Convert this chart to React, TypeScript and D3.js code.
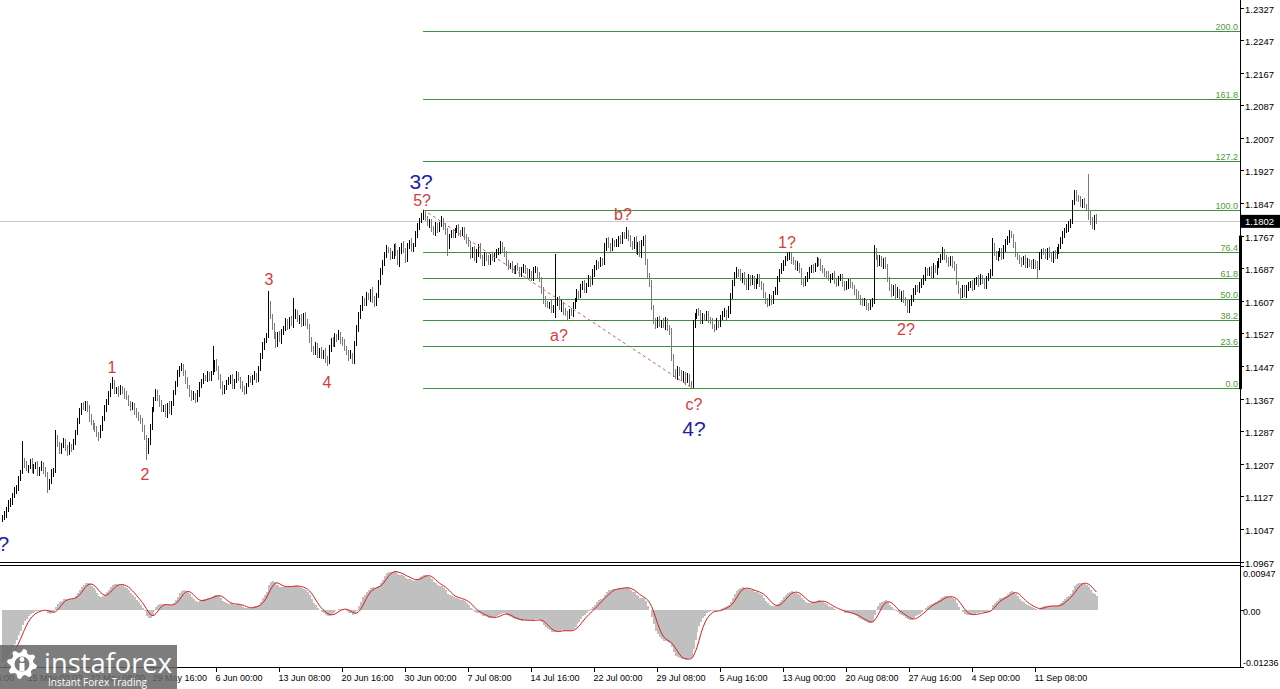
import React from 'react';
import * as d3 from 'd3';

// ---------------- data ----------------
// H4 bars, prices stored as pips above 1.1000
const PIP_BASE = 1.1;
const FIRST_OPEN = 70;

const closes = [
  75,82,95,108,115,128,140,150,170,185,215,
  205,195,200,210,190,200,205,185,195,205,190,180,150,165,185,190,
  270,
  255,240,250,262,245,235,250,245,260,
  285,310,335,350,345,355,340,320,
  310,300,290,280,275,
  295,320,340,360,380,395,405,
  385,390,380,392,385,375,
  370,355,345,350,335,330,320,310,295,270,240,
  260,300,340,365,380,
  370,355,340,345,330,350,335,355,
  380,405,430,440,445,
  430,410,395,380,370,375,365,380,
  400,410,420,415,425,420,430,440,
  455,440,420,400,385,395,405,
  410,420,400,410,425,415,400,390,385,400,415,410,420,425,415,
  440,470,495,510,520,
  600,
  570,545,520,500,525,510,530,
  540,555,545,560,550,570,580,
  560,565,550,570,555,545,
  510,490,480,495,475,485,470,480,465,460,
  490,510,500,520,515,525,510,505,490,480,
  470,475,460,
  500,540,570,590,610,600,620,615,630,610,600,620,
  650,680,700,720,735,
  730,715,720,740,725,700,730,745,730,710,740,750,735,745,
  770,790,805,815,820,
  810,795,800,785,775,790,780,795,805,790,775,740,
  765,775,770,780,785,775,770,780,765,755,
  745,720,735,710,725,740,715,700,720,710,
  705,715,710,720,725,730,745,735,720,700,
  690,695,685,680,690,685,675,680,690,680,670,675,665,680,685,670,660,
  630,610,600,595,600,585,590,
  600,
  610,590,600,580,575,570,580,575,
  595,610,625,620,640,650,635,645,660,650,
  675,690,700,695,705,700,
  740,755,745,735,750,745,
  750,760,755,770,765,775,760,
  750,740,755,730,745,720,750,760,
  700,670,650,
  590,560,545,560,550,
  555,545,560,540,530,
  470,430,420,
  440,430,415,425,410,420,405,400,
  545,
  570,580,575,560,570,565,575,560,555,
  545,540,555,550,
  565,575,580,570,585,
  620,650,670,680,675,
  660,670,655,640,665,650,660,645,655,665,650,640,
  620,610,600,615,605,625,630,
  660,680,690,700,710,715,720,
  705,700,690,695,680,655,650,
  660,670,680,690,685,695,705,700,690,
  680,675,670,660,665,670,655,650,660,665,650,640,645,655,645,
  640,630,620,615,605,600,605,595,590,600,
  605,
  730,
  715,700,710,695,705,690,
  660,640,625,640,620,630,615,625,610,
  600,585,600,
  615,630,640,635,645,650,
  665,680,675,685,670,690,680,695,705,715,725,
  715,705,700,710,695,690,
  650,630,620,640,625,635,
  645,650,640,655,660,650,665,655,645,660,670,675,
  740,
  725,715,720,730,715,735,
  750,760,770,765,
  745,720,715,705,700,710,695,705,700,690,700,695,690,
  720,730,725,715,730,720,710,725,715,730,740,
  755,770,780,785,795,800,
  850,870,
  860,855,845,850,840,835,
  820,
  800,790,810,802,
];

const upperWick = [
  6,8,5,9,7,6,10,5,8,7,49,6,9,5,8,10,6,7,9,5,
  8,6,9,7,5,10,6,19,8,5,7,9,6,8,10,5,7,6,9,8,
  5,9,7,6,10,8,5,7,9,6,8,5,10,7,6,9,14,8,5,7,
  9,6,8,10,5,7,9,6,8,5,7,10,6,8,9,5,7,6,10,8,
  6,9,5,8,7,10,6,9,5,8,7,10,6,8,9,5,7,10,6,8,
  7,5,9,6,10,8,5,57,7,9,6,8,10,5,7,9,6,8,5,10,
  8,6,9,7,5,10,8,6,9,5,7,8,10,6,9,32,7,5,8,10,
  6,9,7,5,10,8,6,9,45,7,5,8,10,6,9,7,5,8,6,10,
  9,5,8,7,10,6,9,5,8,7,6,10,5,9,8,7,6,10,5,8,
  7,10,6,8,5,9,7,6,10,8,5,9,7,6,8,10,5,7,9,6,
  8,6,10,5,9,7,8,6,10,5,9,7,6,8,11,10,5,9,7,6,
  10,7,5,9,6,8,10,7,5,9,6,8,10,5,7,9,6,8,10,5,
  6,9,7,10,5,8,6,9,7,10,5,8,6,9,7,5,10,8,6,9,
  8,5,10,6,9,7,5,8,10,6,9,7,5,8,6,10,9,7,5,8,
  7,123,6,9,8,5,10,7,6,9,8,5,10,7,9,6,8,5,10,7,
  9,6,8,5,10,7,9,6,8,5,10,7,9,6,8,5,7,12,6,9,
  5,8,10,6,9,7,5,8,10,6,9,7,5,8,10,6,9,7,5,8,
  10,6,9,7,5,8,10,6,9,7,5,15,8,6,10,9,7,5,8,6,
  7,9,5,10,6,8,7,9,5,10,6,8,7,9,5,10,6,8,7,9,
  6,10,8,5,9,7,6,10,8,5,9,7,6,10,8,5,9,7,6,10,
  8,5,9,7,10,6,8,5,9,7,10,6,8,5,9,7,10,6,8,5,
  9,7,6,10,5,8,9,7,6,10,5,8,9,7,6,10,5,8,9,7,
  6,8,10,15,7,5,9,6,8,10,7,5,9,6,8,10,7,5,9,6,
  8,10,5,9,7,6,8,10,5,9,7,6,8,10,5,9,7,6,13,8,
  5,9,7,6,10,8,5,9,7,6,10,8,5,9,7,6,10,8,5,9,
  7,6,10,20,8,5,9,7,6,10,8,5,10,9,7,6,8,5,10,7,
  9,8,5,7,10,6,9,8,5,7,10,6,9,8,5,7,10,6,9,8,
  6,10,7,9,5,10,8,6,9,7,10,5,83,8,12,7,9,
];

const lowerWick = [
  7,5,9,6,8,10,5,7,9,6,2,8,5,10,7,6,9,5,8,7,
  6,9,5,14,8,7,10,5,6,9,8,5,7,10,6,9,5,8,7,6,
  9,6,8,5,10,7,9,6,8,11,5,7,9,6,10,8,5,7,6,9,
  5,8,10,7,6,9,5,8,10,7,6,9,5,25,8,6,10,7,5,9,
  8,7,5,9,10,6,8,7,5,9,10,6,8,7,5,9,10,6,8,7,
  10,6,8,5,7,9,10,6,8,5,7,9,10,6,8,5,7,9,10,6,
  6,9,7,10,8,5,6,9,7,10,8,5,6,9,7,5,8,10,6,9,
  7,5,10,8,6,9,7,5,10,8,6,9,7,5,10,8,6,9,7,5,
  9,8,6,5,10,12,9,8,6,7,10,5,9,8,6,7,10,5,9,8,
  5,10,8,9,6,7,5,10,8,9,6,7,5,10,8,9,6,7,5,10,
  8,6,9,7,5,10,8,6,9,7,5,10,8,6,9,7,5,10,8,6,
  10,7,5,8,9,6,22,7,5,8,9,6,10,7,5,8,9,6,10,7,
  6,9,10,5,7,8,6,9,10,5,7,8,6,9,10,5,7,8,6,9,
  7,8,6,10,9,5,7,8,6,10,9,5,7,8,6,10,9,5,7,8,
  9,25,7,6,10,8,5,10,7,6,9,8,5,10,7,6,9,8,5,10,
  5,10,8,9,6,7,5,10,8,9,6,7,5,10,8,9,6,7,5,10,
  8,6,7,10,5,9,8,6,7,10,5,9,8,6,7,10,5,9,8,6,
  10,9,5,8,7,6,10,9,5,8,8,8,5,7,6,10,9,5,8,7,
  6,7,9,5,10,8,6,7,9,5,10,8,6,7,9,5,10,8,6,7,
  7,5,10,8,6,9,7,5,10,8,6,9,7,5,10,8,6,9,7,5,
  9,8,6,7,10,5,9,8,6,7,10,5,9,8,6,7,10,5,9,8,
  5,10,8,6,9,7,5,10,8,6,9,7,5,10,8,6,9,7,5,10,
  8,6,9,5,7,10,8,6,9,5,7,10,8,6,9,5,7,10,8,6,
  9,7,5,10,8,6,9,7,5,10,8,6,9,7,5,10,8,6,9,7,
  6,9,7,8,10,5,6,9,7,8,10,5,6,9,7,8,10,5,6,9,
  10,5,8,6,9,7,10,5,8,6,9,7,10,5,8,6,9,7,10,5,
  7,8,10,5,6,9,26,8,10,5,6,9,7,8,10,5,6,9,7,8,
  9,6,8,10,5,7,9,6,8,10,5,7,15,8,6,9,7,
];

const priceTicks = [
  1.2327, 1.2247, 1.2167, 1.2087, 1.2007, 1.1927, 1.1847, 1.1767, 1.1687,
  1.1607, 1.1527, 1.1447, 1.1367, 1.1287, 1.1207, 1.1127, 1.1047, 1.0967,
];
const priceDomain = [1.0967, 1.2327];

const timeTickIndex = [-19, 13, 45, 77, 109, 141, 173, 205, 237, 269, 301, 333, 365, 397, 429, 461, 493, 525];
const timeTickText = [
  '7 May 16:00', '15 May 00:00', '22 May 08:00', '29 May 16:00', '6 Jun 00:00', '13 Jun 08:00',
  '20 Jun 16:00', '30 Jun 00:00', '7 Jul 08:00', '14 Jul 16:00', '22 Jul 00:00', '29 Jul 08:00',
  '5 Aug 16:00', '13 Aug 00:00', '20 Aug 08:00', '27 Aug 16:00', '4 Sep 00:00', '11 Sep 08:00',
];

const fibRatios = [0, 23.6, 38.2, 50, 61.8, 76.4, 100, 127.2, 161.8, 200];
const fibHighIndex = 214;
const fibLowIndex = 351;
const currentPrice = 1.1802;

// oscillator: EMA(fast) - EMA(slow) histogram, SMA signal line
const macdDomain = [-0.01236, 0.00947];
const macdTicks = [0.00947, 0, -0.01236];
const fastPeriod = 10;
const slowPeriod = 34;
const signalPeriod = 5;
const fastSeed = 1.111;
const slowSeed = 1.1228;
const macdPrior = [-0.0128, -0.0132, -0.0131, -0.0126];
const axisMarkRange = [1.1767, 1.139];

const waveText = ['2?', '1', '2', '3', '4', '3?', '5?', 'a?', 'b?', 'c?', '4?', '1?', '2?'];
const waveIndex = [3.6, 55.9, 72.7, 135.7, 165.2, 213, 213.5, 283.1, 315.6, 351.7, 351.7, 399, 459.5];
const wavePrice = [1.0993, 1.143, 1.1167, 1.1646, 1.1393, 1.1881, 1.184, 1.1508, 1.1805, 1.1339, 1.1275, 1.1737, 1.1523];
const waveMajor = [true, false, false, false, false, true, false, false, false, false, true, false, false];

// ---------------- chart ----------------
const W = 1280;
const H = 689;
const AX = 1240;
const FONT = "'Liberation Sans', Arial, sans-serif";

function gearPath(cx: number, cy: number, ro: number, ri: number, teeth: number) {
  const n = teeth * 4;
  const pts: [number, number][] = [];
  for (let k = 0; k < n; k++) {
    const a = ((k + 0.5) / n) * 2 * Math.PI;
    const r = k % 4 < 2 ? ro : ri;
    pts.push([cx + r * Math.cos(a), cy + r * Math.sin(a)]);
  }
  return (d3.line()(pts) || '') + 'Z';
}

export default function App() {
  const x = d3.scaleLinear().domain([0, 556]).range([2, 2 + 556 * 1.9674]);
  const y = d3.scaleLinear().domain(priceDomain).range([561.5, 7.5]);
  const ym = d3.scaleLinear().domain(macdDomain).range([667, 566]);
  const P = (pips: number) => PIP_BASE + pips / 10000;

  const bars = closes.map((c, i) => {
    const o = i === 0 ? FIRST_OPEN : closes[i - 1];
    const hi = Math.max(o, c) + (upperWick[i] ?? 6);
    const lo = Math.min(o, c) - (lowerWick[i] ?? 6);
    return { i, hi: P(hi), lo: P(lo), up: c >= o };
  });

  let eF = fastSeed;
  let eS = slowSeed;
  const kF = 2 / (fastPeriod + 1);
  const kS = 2 / (slowPeriod + 1);
  const macd = closes.map((c) => {
    const p = P(c);
    eF += kF * (p - eF);
    eS += kS * (p - eS);
    return eF - eS;
  });
  const allM = [...macdPrior, ...macd];
  const off = macdPrior.length + 1 - signalPeriod;
  const signal = macd.map((_, i) => d3.mean(allM.slice(i + off, i + off + signalPeriod)) as number);

  const fibHigh = bars[fibHighIndex].hi;
  const fibLow = bars[fibLowIndex].lo;
  const fibX0 = x(fibHighIndex);

  const sigLine =
    d3
      .line<number>()
      .x((_, i) => x(i) + 0.5)
      .y((d) => ym(d))(signal) || '';

  const zeroY = ym(0);

  return (
    <svg
      width={W}
      height={H}
      style={{ position: 'fixed', left: 0, top: 0, background: '#fff' }}
      fontFamily={FONT}
    >
      <defs>
        <clipPath id="mainClip">
          <rect x={0} y={0} width={AX} height={562} />
        </clipPath>
        <clipPath id="macdClip">
          <rect x={0} y={566} width={AX} height={101} />
        </clipPath>
      </defs>
      <rect x={0} y={0} width={W} height={H} fill="#fff" />

      {/* current price line */}
      <line
        x1={0}
        x2={AX}
        y1={Math.round(y(currentPrice)) + 0.5}
        y2={Math.round(y(currentPrice)) + 0.5}
        stroke="#c8c8c8"
        strokeWidth={1}
      />

      {/* fib levels */}
      {fibRatios.map((r) => {
        const p = fibLow + ((fibHigh - fibLow) * r) / 100;
        const yy = Math.round(y(p)) + 0.5;
        return (
          <g key={r}>
            <line x1={fibX0} x2={AX} y1={yy} y2={yy} stroke="#3f8f3f" strokeWidth={1} />
            <text x={AX - 2} y={yy - 2} textAnchor="end" fontSize={9} fill="#4e9a36">
              {r.toFixed(1)}
            </text>
          </g>
        );
      })}

      {/* price bars */}
      <g clipPath="url(#mainClip)" shapeRendering="crispEdges">
        {bars.map((b) => {
          const xx = Math.round(x(b.i)) + 0.5;
          return (
            <line
              key={b.i}
              x1={xx}
              x2={xx}
              y1={y(b.hi)}
              y2={y(b.lo)}
              stroke={b.up ? '#000' : '#7a7a7a'}
              strokeWidth={1}
            />
          );
        })}
      </g>

      {/* dashed wave line */}
      <line
        x1={x(fibHighIndex)}
        y1={y(fibHigh)}
        x2={x(fibLowIndex)}
        y2={y(fibLow)}
        stroke="#d06060"
        strokeWidth={1}
        strokeDasharray="3,3"
      />

      {/* wave labels */}
      {waveText.map((t, k) => (
        <text
          key={k}
          x={x(waveIndex[k])}
          y={y(wavePrice[k])}
          textAnchor={k === 0 ? 'end' : 'middle'}
          fontSize={waveMajor[k] ? 21 : 16}
          fill={waveMajor[k] ? '#1e1eaa' : '#d43c3c'}
        >
          {t}
        </text>
      ))}

      {/* separators */}
      <line x1={0} x2={AX} y1={562.5} y2={562.5} stroke="#000" />
      <line x1={0} x2={AX} y1={565.5} y2={565.5} stroke="#000" />
      <line x1={0} x2={AX + 0.5} y1={667.5} y2={667.5} stroke="#000" />
      <line x1={AX + 0.5} x2={AX + 0.5} y1={0} y2={668} stroke="#000" />
      <rect
        x={AX - 1}
        y={y(axisMarkRange[0])}
        width={3}
        height={y(axisMarkRange[1]) - y(axisMarkRange[0])}
        fill="#000"
      />

      {/* price axis */}
      {priceTicks.map((p) => {
        const yy = Math.round(y(p)) + 0.5;
        return (
          <g key={p}>
            <line x1={AX} x2={AX + 4} y1={yy} y2={yy} stroke="#000" />
            <text x={1245} y={yy + 0.5} dominantBaseline="central" fontSize={9.5} fill="#000">
              {p.toFixed(4)}
            </text>
          </g>
        );
      })}
      <rect x={AX + 1} y={y(currentPrice) - 6.5} width={W - AX - 1} height={13} fill="#000" />
      <text x={1245} y={y(currentPrice) + 0.5} dominantBaseline="central" fontSize={9.5} fill="#fff">
        {currentPrice.toFixed(4)}
      </text>

      {/* oscillator */}
      <g clipPath="url(#macdClip)" shapeRendering="crispEdges">
        {macd.map((m, i) => {
          const yy = ym(m);
          return (
            <rect
              key={i}
              x={Math.round(x(i))}
              y={Math.min(yy, zeroY)}
              width={2}
              height={Math.abs(yy - zeroY)}
              fill="#c0c0c0"
            />
          );
        })}
      </g>
      <g clipPath="url(#macdClip)">
        <path d={sigLine} fill="none" stroke="#dd1c1c" strokeWidth={1} />
      </g>
      {macdTicks.map((v, k) => {
        const dy = [7, 1, -5][k];
        const yy = Math.round(ym(v)) + 0.5;
        return (
          <g key={v}>
            <line x1={AX} x2={AX + 4} y1={yy} y2={yy} stroke="#000" />
            <text x={1243} y={yy + dy} dominantBaseline="central" fontSize={9} fill="#000">
              {v === 0 ? '0.00' : v.toFixed(5)}
            </text>
          </g>
        );
      })}

      {/* time axis */}
      {timeTickIndex.map((ti, k) => {
        const xx = Math.round(x(ti)) + 0.5;
        return (
          <g key={ti}>
            <line x1={xx} x2={xx} y1={667} y2={672} stroke="#000" />
            <text x={xx - 1} y={681} fontSize={9} fill="#000">
              {timeTickText[k]}
            </text>
          </g>
        );
      })}

      {/* watermark */}
      <g>
        <rect x={0} y={645} width={177} height={44} fill="#666" opacity={0.85} />
        <path d={gearPath(22, 664, 15, 11.5, 8)} fill="#fff" />
        <circle cx={22} cy={664} r={7.5} fill="#7a7a7a" />
        <circle cx={22} cy={659.5} r={2.4} fill="#fff" />
        <rect x={19.5} y={663} width={5} height={8} fill="#fff" />
        <text
          x={44}
          y={673}
          fontSize={28}
          fill="#fff"
          fontFamily="'Open Sans', sans-serif"
          textLength={128}
          lengthAdjust="spacingAndGlyphs"
        >
          instaforex
        </text>
        <text
          x={48}
          y={686}
          fontSize={10.5}
          fill="#fff"
          fontFamily="'Open Sans', sans-serif"
          textLength={99}
          lengthAdjust="spacingAndGlyphs"
        >
          Instant Forex Trading
        </text>
      </g>
    </svg>
  );
}
